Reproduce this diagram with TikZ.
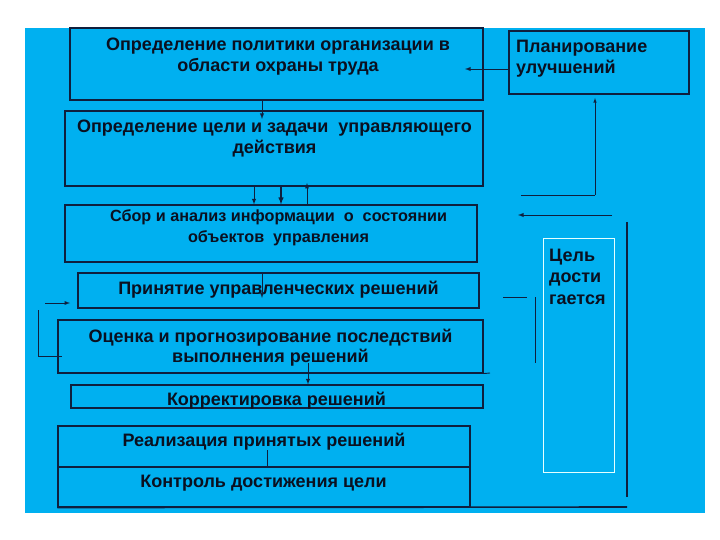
\documentclass[tikz,border=0pt]{standalone}
\usepackage{fontspec}
\setmainfont{Liberation Sans}
\definecolor{bgblue}{HTML}{00B0F0}
\definecolor{navy}{HTML}{0F1F3D}
\definecolor{ink}{HTML}{0A1020}
\definecolor{pale}{HTML}{E6FFFF}

\begin{document}
\begin{tikzpicture}[x=1pt, y=-1pt,
    box/.style={draw=navy, line width=1.1pt, inner sep=0pt},
    txt/.style={text=ink, align=center, inner sep=0pt, font=\bfseries\fontsize{18}{20.5}\selectfont},
    small/.style={txt, font=\bfseries\fontsize{16.2}{21}\selectfont},
    link/.style={draw=navy, line width=0.9pt},
    arr/.style={link, -latex}]
      % 1. фон слайда
      \useasboundingbox (0,0) rectangle (720,540);
      \fill[white] (0,0) rectangle (720,540);
      \fill[bgblue] (25,28) rectangle (705,513);

      % 2. блоки схемы
      \node[box, minimum width=413pt, minimum height=72pt] (polit) at (276.5,64) {};
      \node[box, minimum width=180pt, minimum height=63pt] (plan) at (599,62.5) {};
      \node[box, minimum width=418pt, minimum height=75pt] (goal) at (274,148.5) {};
      \node[box, minimum width=412pt, minimum height=57pt] (info) at (271,233.5) {};
      \node[box, minimum width=401pt, minimum height=35pt] (decis) at (278.5,290.5) {};
      \node[box, minimum width=425pt, minimum height=53pt] (eval) at (270.5,346.5) {};
      \node[box, minimum width=412pt, minimum height=23pt] (corr) at (277,396.5) {};
      \node[box, minimum width=412pt, minimum height=41pt] (real) at (264,446.5) {};
      \node[box, minimum width=412pt, minimum height=40pt] (ctrl) at (264,487) {};
      \node[box, draw=pale, line width=0.8pt, minimum width=71pt, minimum height=234pt] (cel) at (578.5,355) {};

      % 3. подписи блоков
      \node[txt] (politT) at (278,56.5) {Определение политики организации в\\области охраны труда};
      \node[txt, align=left, anchor=west] (planT) at (516,58.5) {Планирование\\улучшений};
      \node[txt] (goalT) at (274.5,138.5) {Определение цели и задачи \ управляющего\\действия};
      \node[small] (infoT) at (278.5,227.5) {Сбор и анализ информации \ о \ состоянии\\объектов \ управления};
      \node[txt] (decisT) at (278.5,290) {Принятие управленческих решений};
      \node[txt] (evalT) at (270.5,347.5) {Оценка и прогнозирование последствий\\выполнения решений};
      \node[txt] (corrT) at (276.5,400.5) {Корректировка решений};
      \node[txt] (realT) at (264,442) {Реализация принятых решений};
      \node[txt] (ctrlT) at (263.5,483) {Контроль достижения цели};
      \node[txt, align=left, anchor=west, font=\bfseries\fontsize{18}{21.5}\selectfont] (celT) at (549,276.5) {Цель\\дости\\гается};

      % 4. свободные концы линий
      \coordinate (planTip) at (465,69);
      \coordinate (politTip) at (262,119);
      \coordinate (downA) at (254,0);
      \coordinate (downB) at (281,0);
      \coordinate (upC) at (307,183);
      \coordinate (decisTip) at (262,298);
      \coordinate (evalFoot) at (308,363);
      \coordinate (realFoot) at (267,450);
      \coordinate (fbStart) at (521,195);
      \coordinate (fbCorner) at (595,195);
      \coordinate (fbTip) at (595,98);
      \coordinate (midStart) at (612,215);
      \coordinate (midTip) at (518,215);
      \coordinate (rightTop) at (627,222);
      \coordinate (rightBot) at (627,497);
      \coordinate (floorEnd) at (627,507);
      \coordinate (sideA) at (503,297);
      \coordinate (sideB) at (527,297);
      \coordinate (sideC) at (535,297);
      \coordinate (sideD) at (535,363);
      \coordinate (leftStart) at (45,303);
      \coordinate (leftTip) at (70,303);
      \coordinate (hookTop) at (38,310);
      \coordinate (hookBot) at (38,356);
      \coordinate (hookEnd) at (62,356);
      \coordinate (evalEnd) at (490,373);

      % 5. стрелки и линии
      \draw[arr] (plan.west |- planTip) -- (planTip);
      \draw[arr] (polit.south -| politTip) -- (politTip);
      \draw[arr] (goal.south -| downA) -- (info.north -| downA);
      \draw[arr, line width=1.4pt] (goal.south -| downB) -- (info.north -| downB);
      \draw[arr] (info.north -| upC) -- (upC);
      \draw[arr] (decis.north -| decisTip) -- (decisTip);
      \draw[arr] (evalFoot) -- (corr.north -| evalFoot);
      \draw[link, line width=0.6pt] (realFoot) -- (real.south -| realFoot);
      \draw[link, line width=0.6pt] (fbStart) -- (fbCorner);
      \draw[arr, line width=0.6pt] (fbCorner) -- (fbTip);
      \draw[arr] (midStart) -- (midTip);
      \draw[link, line width=1.6pt] (rightTop) -- (rightBot);
      \draw[link, line width=1.6pt] (ctrl.south west) -- (floorEnd);
      \draw[link, line width=0.6pt] (sideA) -- (sideB);
      \draw[link] (sideC) -- (sideD);
      \draw[arr] (leftStart) -- (leftTip);
      \draw[link] (hookTop) -- (hookBot) -- (hookEnd);
      \draw[link] (eval.south east) -- (evalEnd);
\end{tikzpicture}
\end{document}
